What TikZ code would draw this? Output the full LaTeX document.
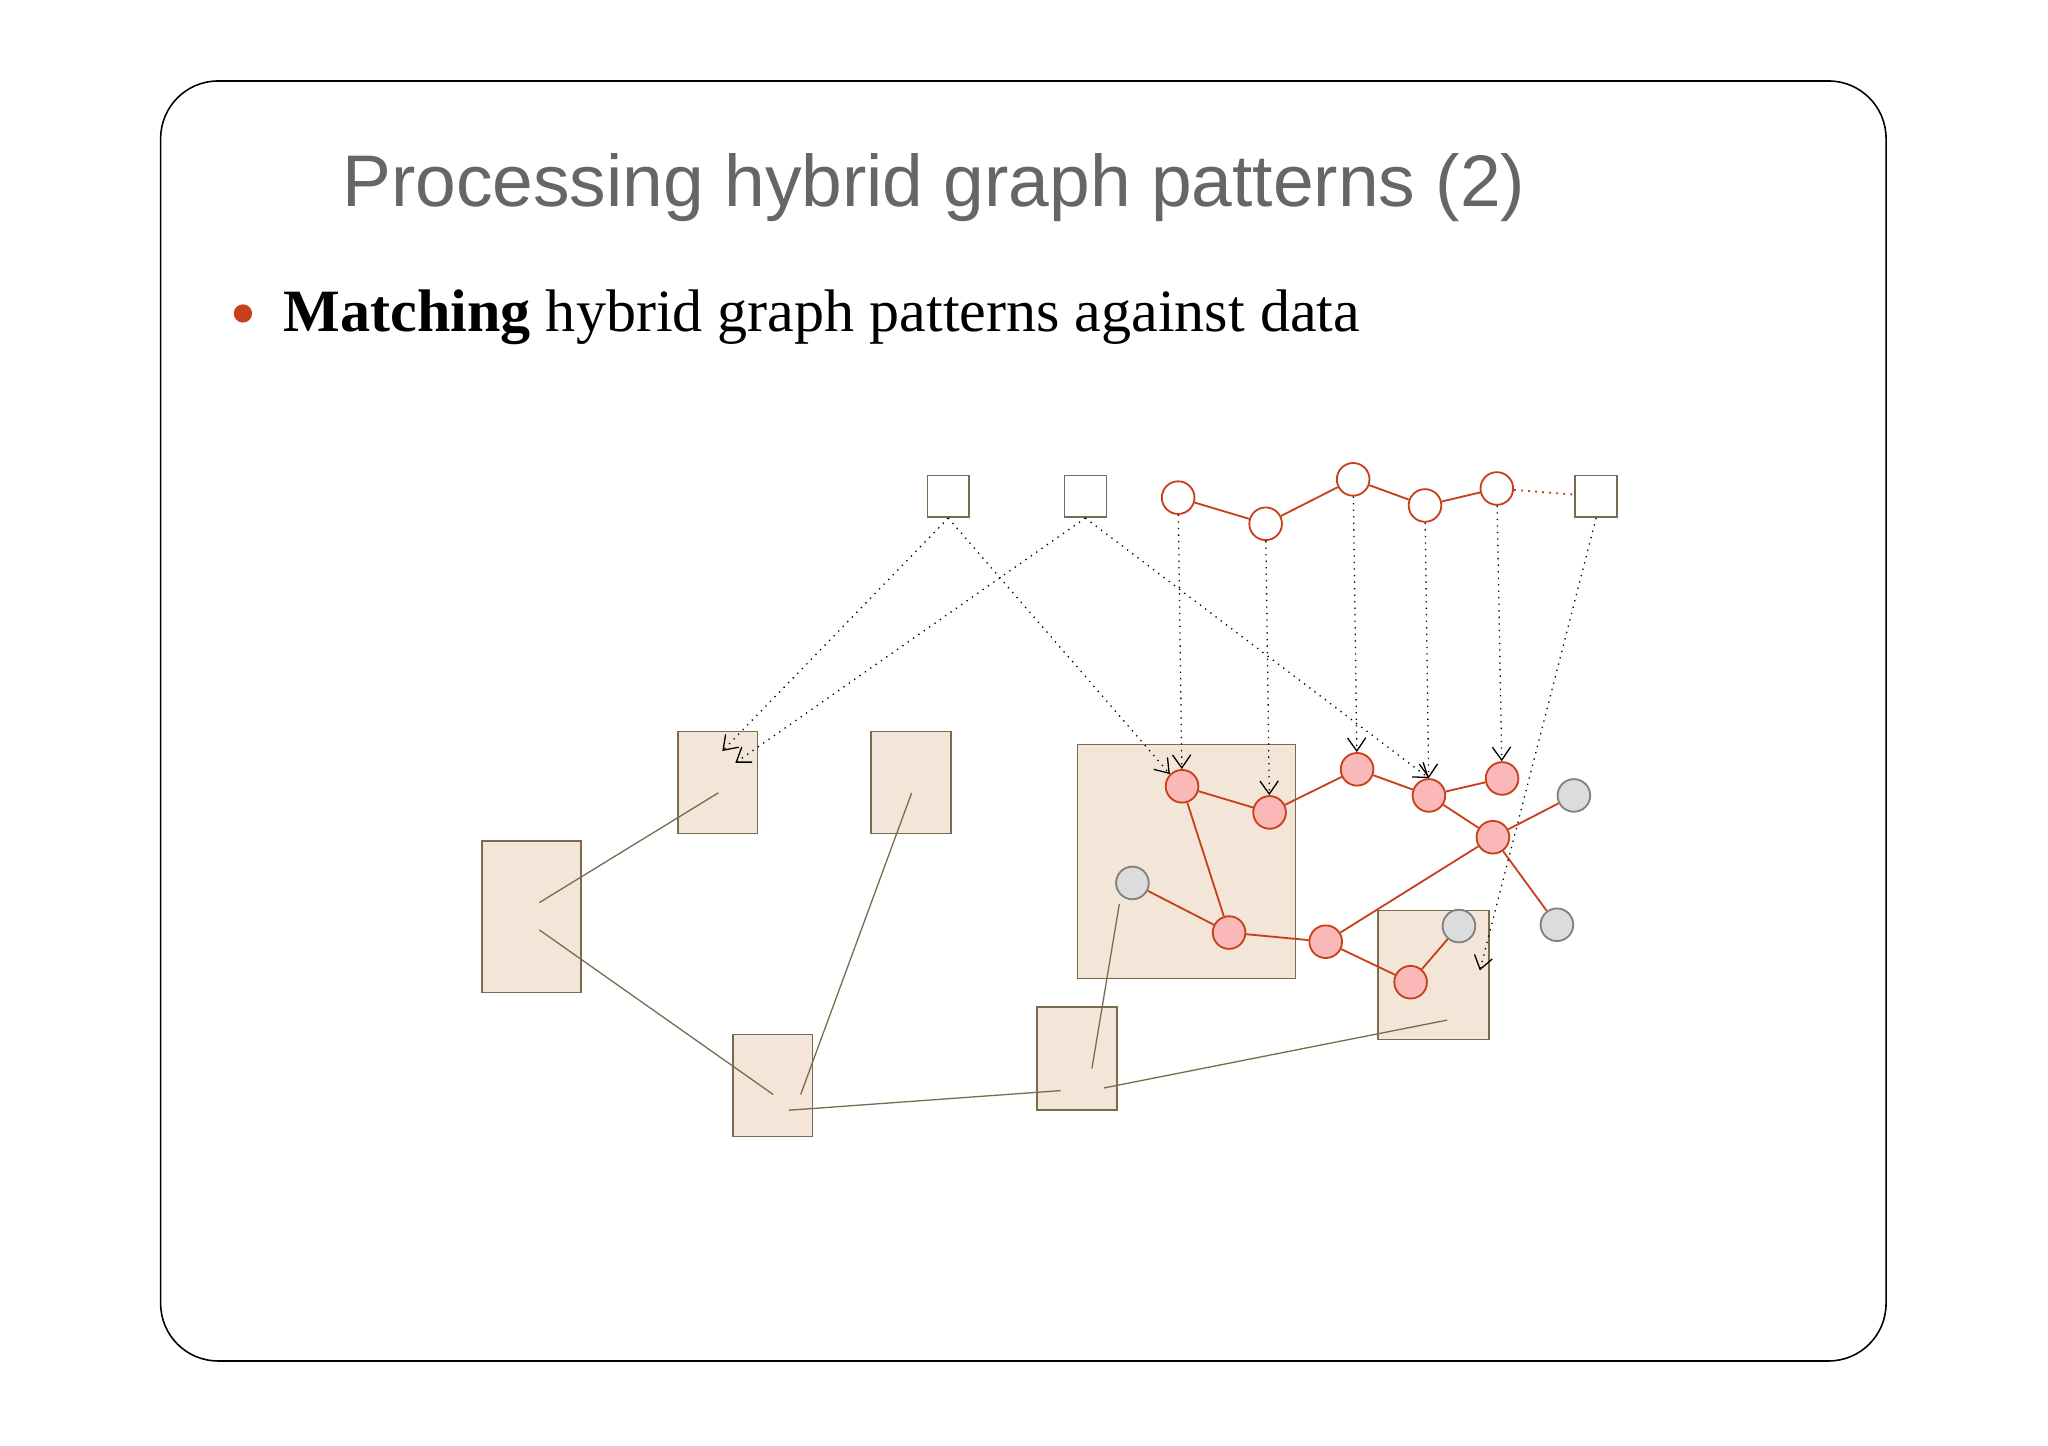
\documentclass[tikz,border=0pt]{standalone}
\usepackage{fontspec}
\setmainfont{Liberation Serif}
\newfontfamily\titlefont{Liberation Sans}
\usetikzlibrary{arrows.meta}
\definecolor{tanf}{HTML}{F3E6D8}
\definecolor{tand}{HTML}{7A6A50}
\definecolor{redd}{HTML}{C8401A}
\definecolor{pinkf}{HTML}{FBB8B8}
\definecolor{grayf}{HTML}{DCDCDC}
\definecolor{titlec}{HTML}{666666}
\tikzset{
 tanbox/.style={draw=tand,fill=tanf,line width=0.6pt,inner sep=0pt},
 sq/.style={draw=tand,fill=white,line width=0.6pt,minimum size=16pt,inner sep=0pt},
 ocirc/.style={circle,draw=redd,fill=white,line width=0.7pt,minimum size=12.5pt,inner sep=0pt},
 pcirc/.style={circle,draw=redd,fill=pinkf,line width=0.7pt,minimum size=12.5pt,inner sep=0pt},
 gcirc/.style={circle,draw=gray,fill=grayf,line width=0.7pt,minimum size=12.5pt,inner sep=0pt},
 redge/.style={draw=redd,line width=0.7pt},
 gedge/.style={draw=tand,line width=0.5pt},
 marrow/.style={draw=black,dotted,line width=0.5pt,-{Straight Barb[length=5pt,width=7pt]}},
}
\begin{document}
\begin{tikzpicture}[x=0.5pt,y=-0.5pt]
\useasboundingbox (0,0) rectangle (1568,1107);
\draw[line width=0.6pt,rounded corners=22pt] (123,62) rectangle (1444,1042);
\node[font=\titlefont\fontsize{28}{32}\selectfont,text=titlec,anchor=base] (title) at (715,158) {Processing hybrid graph patterns (2)};
\node[circle,fill=redd,minimum size=7pt,inner sep=0pt] (bul) at (186,240) {};
\node[anchor=base west,font=\fontsize{23}{26}\selectfont,inner sep=0pt] (txt) at (217,254) {\textbf{Matching} hybrid graph patterns against data};
% boxes
\node[tanbox,minimum width=30.5pt,minimum height=39pt] (A) at (549.5,599) {};
\node[tanbox,minimum width=30.5pt,minimum height=39pt] (B) at (697.5,599) {};
\node[tanbox,minimum width=38pt,minimum height=58pt] (C) at (407,702) {};
\node[tanbox,minimum width=30.5pt,minimum height=39pt] (D) at (591.5,831) {};
\node[tanbox,minimum width=30.5pt,minimum height=39.5pt] (E) at (824.5,810.5) {};
\node[tanbox,minimum width=83.5pt,minimum height=89.5pt] (F) at (908.5,659.5) {};
\node[tanbox,minimum width=42.5pt,minimum height=49.5pt] (G) at (1097.5,746.5) {};
% gray lines
\coordinate (c1) at (413,691); \coordinate (a1) at (550,607);
\coordinate (c2) at (413,712); \coordinate (d1) at (592,838);
\coordinate (d2) at (613,838); \coordinate (b1) at (698,607);
\coordinate (d3) at (604,850); \coordinate (e1) at (812,835);
\coordinate (e2) at (836,818); \coordinate (f1) at (857,692);
\coordinate (e3) at (845,833); \coordinate (g1c) at (1108,781);
\draw[gedge] (c1)--(a1); \draw[gedge] (c2)--(d1); \draw[gedge] (d2)--(b1);
\draw[gedge] (d3)--(e1); \draw[gedge] (e2)--(f1); \draw[gedge] (e3)--(g1c);
% top pattern
\node[sq] (s1) at (726,380) {};
\node[sq] (s2) at (831,380) {};
\node[sq] (s3) at (1222,380) {};
\node[ocirc] (o1) at (902,381) {};
\node[ocirc] (o2) at (969,401) {};
\node[ocirc] (o3) at (1036,367) {};
\node[ocirc] (o4) at (1091,387) {};
\node[ocirc] (o5) at (1146,374) {};
\draw[redge] (o1)--(o2)--(o3)--(o4)--(o5);
\draw[redge,dotted] (o5)--(s3);
% data graph
\node[pcirc] (p1) at (905,602) {};
\node[pcirc] (p2) at (972,622) {};
\node[pcirc] (p3) at (1039,589) {};
\node[pcirc] (p4) at (1094,609) {};
\node[pcirc] (p5) at (1150,596) {};
\node[pcirc] (p6) at (1143,641) {};
\node[pcirc] (p7) at (941,714) {};
\node[pcirc] (p8) at (1015,721) {};
\node[pcirc] (p9) at (1080,752) {};
\node[gcirc] (g1) at (867,676) {};
\node[gcirc] (g2) at (1205,609) {};
\node[gcirc] (g3) at (1117,709) {};
\node[gcirc] (g4) at (1192,708) {};
\draw[redge] (p1)--(p2)--(p3)--(p4)--(p5);
\draw[redge] (p1)--(p7); \draw[redge] (g1)--(p7); \draw[redge] (p7)--(p8);
\draw[redge] (p8)--(p6); \draw[redge] (p4)--(p6); \draw[redge] (p6)--(g2);
\draw[redge] (p6)--(g4); \draw[redge] (p8)--(p9); \draw[redge] (p9)--(g3);
% mapping arrows
\coordinate (ta) at (553,575); \coordinate (tb) at (563,584); \coordinate (tg) at (1133,743);
\draw[marrow] (s1.south)--(ta);
\draw[marrow] (s1.south)--(p1.north west);
\draw[marrow] (s2.south)--(tb);
\draw[marrow] (s2.south)--(p4.north);
\draw[marrow] (o1)--(p1);
\draw[marrow] (o2)--(p2);
\draw[marrow] (o3)--(p3);
\draw[marrow] (o4)--(p4);
\draw[marrow] (o5)--(p5);
\draw[marrow] (s3.south)--(tg);
\end{tikzpicture}
\end{document}
